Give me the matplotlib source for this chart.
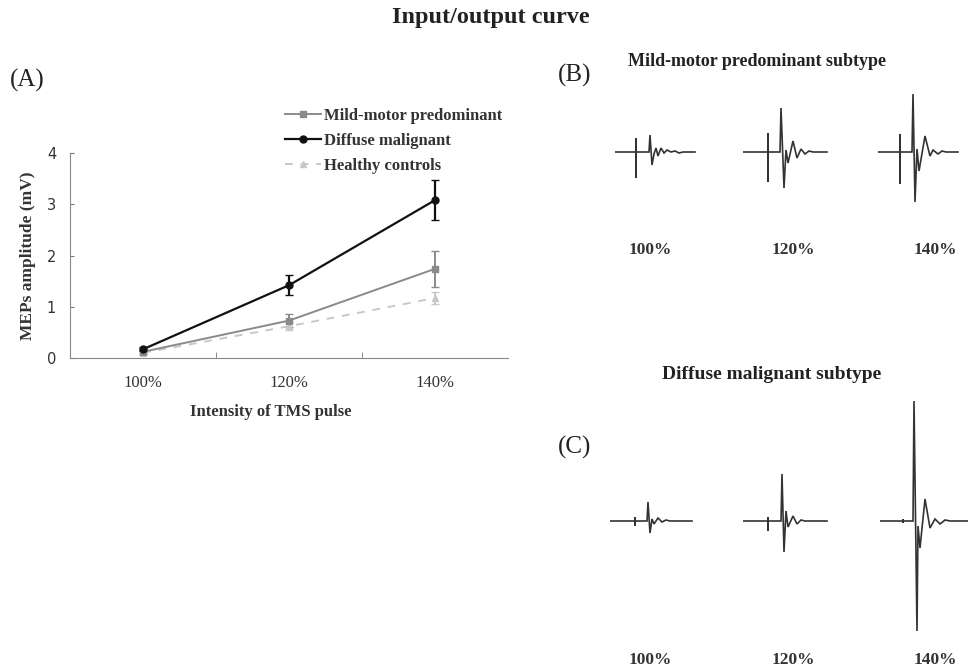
import matplotlib
matplotlib.use("Agg")
import matplotlib.pyplot as plt
from matplotlib.lines import Line2D
import numpy as np

plt.rcParams['font.family'] = ['Liberation Serif', 'DejaVu Serif']

# ---- panel A data ----
intensity = ["100%", "120%", "140%"]
mild_mean = [0.12, 0.73, 1.74]
mild_err = [0.04, 0.13, 0.35]
diffuse_mean = [0.17, 1.42, 3.08]
diffuse_err = [0.04, 0.19, 0.39]
healthy_mean = [0.10, 0.62, 1.17]
healthy_err = [0.03, 0.08, 0.12]

# ---- example MEP traces (time in a.u., amplitude in a.u.) ----
mild_traces = {
    "100%": ([0, 21, 21, 21, 21, 34, 35, 37, 39, 41, 43, 46, 49, 52, 56, 60, 64, 68, 80],
             [0, 0, 14, -26, 0, 0, 17, -13, -2, 4, -4, 4, -1, 2, 0, 1, -1, 0, 0]),
    "120%": ([0, 25, 25, 25, 25, 37, 38, 41, 43, 45, 50, 54, 58, 62, 66, 70, 84],
             [0, 0, 19, -30, 0, 0, 44, -36, 2, -11, 11, -6, 3, -2, 1, 0, 0]),
    "140%": ([0, 22, 22, 22, 22, 34, 35, 37, 39, 41, 47, 52, 55, 60, 64, 68, 80],
             [0, 0, 18, -32, 0, 0, 58, -50, 3, -19, 16, -4, 2, -2, 1, 0, 0]),
}
diffuse_traces = {
    "100%": ([0, 25, 25, 25, 25, 37, 38, 40, 42, 44, 48, 52, 56, 60, 82],
             [0, 0, 4, -5, 0, 0, 19, -12, 2, -3, 3, -1, 1, 0, 0]),
    "120%": ([0, 25, 25, 25, 25, 38, 39, 41, 43, 45, 50, 54, 58, 62, 84],
             [0, 0, 4, -10, 0, 0, 47, -31, 10, -6, 5, -3, 1, 0, 0]),
    "140%": ([0, 23, 23, 23, 23, 33, 34, 37, 38, 40, 45, 50, 55, 60, 65, 70, 88],
             [0, 0, 2, -2, 0, 0, 120, -110, -5, -27, 22, -7, 2, -3, 1, 0, 0]),
}

W, H = 968, 670
fig = plt.figure(figsize=(W / 100, H / 100), dpi=100)


def px_rect(x0, y_top, w, h):
    return [x0 / W, 1 - (y_top + h) / H, w / W, h / H]


# ---- panel A ----
ax = fig.add_axes(px_rect(70, 153, 438, 205))
x = np.arange(1, len(intensity) + 1)
styles = {
    "Healthy controls": dict(color="#c8c8c8", ls=(0, (4, 4)), lw=1.4, marker="^", ms=5),
    "Mild-motor predominant": dict(color="#8a8a8a", ls="-", lw=1.4, marker="s", ms=4.5),
    "Diffuse malignant": dict(color="#111111", ls="-", lw=1.6, marker="o", ms=5),
}
ax.errorbar(x, healthy_mean, yerr=healthy_err, capsize=3, **styles["Healthy controls"])
ax.errorbar(x, mild_mean, yerr=mild_err, capsize=3, **styles["Mild-motor predominant"])
ax.errorbar(x, diffuse_mean, yerr=diffuse_err, capsize=3, **styles["Diffuse malignant"])
ax.set_xlim(0.5, 3.5)
ax.set_ylim(0, 4)
ax.set_xticks(x)
ax.set_xticklabels(intensity, fontsize=12, color="#333333")
ax.set_xticks([1.5, 2.5], minor=True)
ax.tick_params(axis="x", which="major", length=0, pad=12)
ax.tick_params(axis="x", which="minor", length=4, direction="in", color="#777777")
ax.set_yticks([0, 1, 2, 3, 4])
ax.set_yticklabels(["0", "1", "2", "3", "4"], family="DejaVu Sans", fontsize=10.5, color="#333333")
ax.tick_params(axis="y", length=3, direction="in", color="#777777", pad=10)
for s in ["top", "right"]:
    ax.spines[s].set_visible(False)
for s in ["left", "bottom"]:
    ax.spines[s].set_color("#888888")
ax.set_ylabel("MEPs amplitude (mV)", fontsize=12.5, fontweight="bold", color="#333333", labelpad=8)

leg_names = ["Mild-motor predominant", "Diffuse malignant", "Healthy controls"]
handles = [Line2D([], [], **styles[n]) for n in leg_names]
fig.legend(handles, leg_names, loc="upper left",
           bbox_to_anchor=(278 / W, 1 - 101 / H), frameon=False, handlelength=2.2,
           handletextpad=0.15, labelspacing=0.55, borderaxespad=0,
           prop={"size": 12, "weight": "bold"}, labelcolor="#333333")

fig.text(271 / W, 1 - 412 / H, "Intensity of TMS pulse", ha="center", va="center",
         fontsize=12, fontweight="bold", color="#333333")
fig.text(491 / W, 1 - 18 / H, "Input/output curve", ha="center", va="center",
         fontsize=17.5, fontweight="bold", color="#222222")
fig.text(10 / W, 1 - 80 / H, "(A)", ha="left", va="center", fontsize=18, color="#222222")
fig.text(558 / W, 1 - 75 / H, "(B)", ha="left", va="center", fontsize=18, color="#222222")
fig.text(558 / W, 1 - 447 / H, "(C)", ha="left", va="center", fontsize=18, color="#222222")
fig.text(757 / W, 1 - 62 / H, "Mild-motor predominant subtype", ha="center", va="center",
         fontsize=13, fontweight="bold", color="#222222")
fig.text(772 / W, 1 - 375 / H, "Diffuse malignant subtype", ha="center", va="center",
         fontsize=14, fontweight="bold", color="#222222")


# ---- panels B and C: example traces ----
def draw_row(traces, starts, baseline_px, lo, hi, label_y, label_x):
    for (name, (t, v)), x0, lx in zip(traces.items(), starts, label_x):
        w = max(t) + 1
        a = fig.add_axes(px_rect(x0, baseline_px - hi, w, hi - lo))
        a.plot(t, v, color="#333333", lw=1.2, solid_joinstyle="miter")
        a.set_xlim(0, w)
        a.set_ylim(lo, hi)
        a.axis("off")
        fig.text(lx / W, 1 - label_y / H, name, ha="center", va="center",
                 fontsize=12.5, fontweight="bold", color="#333333")


draw_row(mild_traces, [615, 743, 878], 152, -60, 60, 250, [650, 793, 935])
draw_row(diffuse_traces, [610, 743, 880], 521, -120, 125, 660, [650, 793, 935])

fig.savefig("out.png", dpi=100)
